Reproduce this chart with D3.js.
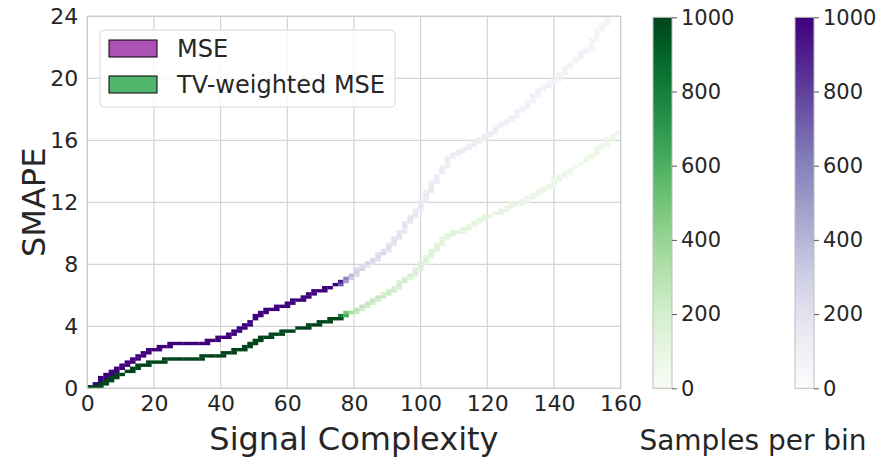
<!DOCTYPE html>
<html>
<head>
<meta charset="utf-8">
<script src="https://cdn.jsdelivr.net/npm/d3@7"></script>
<style>
  body { margin: 0; background: #fff; }
  text { font-family: "DejaVu Sans", sans-serif; fill: #262626; }
</style>
</head>
<body>
<div id="chart"></div>
<script>
var width = 880;
var height = 461;

// bins along signal complexity (column width) and SMAPE (row height)
var binWidth = 1.6;
var binHeight = 0.2;

// SMAPE value for each complexity column (column centre = 0.8 + 1.6*i)
var mseSmape = [0.05, 0.25, 0.52, 0.78, 1.0, 1.2, 1.48, 1.65, 1.85, 2.02,
    2.25, 2.45, 2.56, 2.62, 2.72, 2.84, 2.84, 2.84, 2.84, 2.85,
    2.86, 2.9, 3.05, 3.06, 3.12, 3.33, 3.4, 3.6, 3.8, 4.06,
    4.3, 4.5, 4.78, 4.98, 5.1, 5.25, 5.33, 5.36, 5.59, 5.65,
    5.88, 6.05, 6.2, 6.28, 6.32, 6.5, 6.7, 6.85, 7.05, 7.25,
    7.5, 7.75, 8.0, 8.28, 8.5, 8.72, 9.05, 9.45, 9.95, 10.4,
    10.85, 11.28, 11.78, 12.42, 12.98, 13.45, 14.15, 14.62, 15.05, 15.25,
    15.37, 15.58, 15.78, 15.98, 16.2, 16.45, 16.72, 16.98, 17.18, 17.4,
    17.68, 17.98, 18.3, 18.85, 19.1, 19.35, 19.58, 19.82, 20.15, 20.5,
    20.85, 21.15, 21.45, 21.78, 22.12, 22.8, 23.35, 23.8];

// samples in each column
var mseCount = [2000, 2000, 2000, 2000, 2000, 2000, 2000, 2000, 2000, 2000,
    2000, 2000, 2000, 2000, 2000, 2000, 2000, 2000, 2000, 2000,
    2000, 2000, 2000, 2000, 2000, 2000, 2000, 2000, 2000, 2000,
    2000, 2000, 2000, 2000, 2000, 2000, 2000, 2000, 2000, 2000,
    2000, 2000, 2000, 1800, 1700, 1500, 1300, 900, 600, 380,
    300, 280, 260, 255, 245, 240, 225, 220, 210, 200,
    190, 185, 175, 165, 160, 150, 148, 145, 140, 138,
    135, 132, 130, 128, 125, 122, 120, 118, 115, 112,
    110, 108, 106, 105, 102, 100, 98, 96, 95, 92,
    90, 88, 86, 85, 82, 80, 78, 75];

var tvSmape = [0.0, 0.1, 0.24, 0.42, 0.63, 0.82, 0.95, 1.05, 1.18, 1.35,
    1.5, 1.6, 1.65, 1.68, 1.75, 1.87, 1.87, 1.87, 1.87, 1.88,
    1.9, 2.08, 2.08, 2.1, 2.19, 2.2, 2.3, 2.4, 2.45, 2.7,
    2.88, 3.0, 3.15, 3.3, 3.4, 3.5, 3.56, 3.65, 3.75, 3.85,
    3.9, 4.0, 4.08, 4.2, 4.3, 4.4, 4.48, 4.55, 4.72, 4.9,
    5.08, 5.28, 5.5, 5.65, 5.8, 5.98, 6.18, 6.38, 6.7, 6.94,
    7.22, 7.55, 7.85, 8.25, 8.7, 9.03, 9.45, 9.8, 10.0, 10.12,
    10.25, 10.38, 10.6, 10.82, 11.0, 11.12, 11.28, 11.42, 11.58, 11.75,
    11.9, 12.05, 12.22, 12.42, 12.62, 12.82, 13.02, 13.28, 13.55, 13.8,
    14.1, 14.3, 14.5, 14.7, 14.98, 15.3, 15.6, 15.9, 16.2, 16.5];

var tvCount = [2000, 2000, 2000, 2000, 2000, 2000, 2000, 2000, 2000, 2000,
    2000, 2000, 2000, 2000, 2000, 2000, 2000, 2000, 2000, 2000,
    2000, 2000, 2000, 2000, 2000, 2000, 2000, 2000, 2000, 2000,
    2000, 2000, 2000, 2000, 2000, 2000, 2000, 2000, 2000, 2000,
    2000, 2000, 2000, 1800, 1700, 1500, 1300, 1000, 620, 360,
    290, 270, 260, 250, 245, 235, 230, 220, 210, 205,
    195, 185, 175, 165, 160, 150, 145, 140, 138, 135,
    130, 128, 125, 122, 120, 118, 115, 112, 110, 108,
    105, 102, 100, 98, 96, 95, 92, 90, 88, 86,
    85, 82, 80, 78, 76, 75, 72, 70, 68, 66];

var xTicks = [0, 20, 40, 60, 80, 100, 120, 140, 160];
var yTicks = [0, 4, 8, 12, 16, 20, 24];
var countTicks = [0, 200, 400, 600, 800, 1000];
var seriesNames = ["MSE", "TV-weighted MSE"];
var seriesPatch = ["#ab52b3", "#52b56c"];

var plotLeft = 87.3, plotRight = 620.6, plotTop = 16.3, plotBottom = 388.3;

var xScale = d3.scaleLinear().domain([0, 160]).range([plotLeft, plotRight]);
var yScale = d3.scaleLinear().domain([0, 24]).range([plotBottom, plotTop]);

var purple = d3.scaleSequential(d3.interpolatePurples).domain([0, 1000]).clamp(true);
var green = d3.scaleSequential(d3.interpolateGreens).domain([0, 1000]).clamp(true);

var svg = d3.select("#chart")
    .append("svg")
    .attr("width", width)
    .attr("height", height);

// grid
svg.append("g")
    .selectAll("line")
    .data(xTicks)
    .enter()
    .append("line")
    .attr("x1", function (d) { return xScale(d); })
    .attr("x2", function (d) { return xScale(d); })
    .attr("y1", plotTop)
    .attr("y2", plotBottom)
    .attr("stroke", "#d4d4d4")
    .attr("stroke-width", 1.2);

svg.append("g")
    .selectAll("line")
    .data(yTicks)
    .enter()
    .append("line")
    .attr("x1", plotLeft)
    .attr("x2", plotRight)
    .attr("y1", function (d) { return yScale(d); })
    .attr("y2", function (d) { return yScale(d); })
    .attr("stroke", "#d4d4d4")
    .attr("stroke-width", 1.2);

// turn a column series into histogram cells
function makeCells(vals, counts) {
    var cells = [];
    for (var i = 0; i < vals.length; i++) {
        var cur = vals[i];
        var prev = i > 0 ? vals[i - 1] : cur;
        var next = i < vals.length - 1 ? vals[i + 1] : cur;
        var lo = Math.floor(((cur + prev) / 2) / binHeight + 1e-6);
        var hi = Math.floor(((cur + next) / 2) / binHeight - 1e-6);
        var main = Math.floor(cur / binHeight + 1e-6);
        lo = Math.min(lo, main);
        hi = Math.max(hi, main);
        for (var b = lo; b <= hi; b++) {
            cells.push({
                x0: i * binWidth,
                y0: b * binHeight,
                n: b === main ? counts[i] : counts[i] * 0.8
            });
        }
    }
    return cells;
}

function drawCells(cells, color) {
    svg.append("g")
        .selectAll("rect")
        .data(cells)
        .enter()
        .append("rect")
        .attr("x", function (d) { return xScale(d.x0); })
        .attr("y", function (d) { return yScale(d.y0 + binHeight); })
        .attr("width", xScale(binWidth) - xScale(0) + 0.3)
        .attr("height", yScale(0) - yScale(binHeight) + 0.3)
        .attr("fill", function (d) { return color(d.n); });
}

drawCells(makeCells(mseSmape, mseCount), purple);
drawCells(makeCells(tvSmape, tvCount), green);

// frame
svg.append("rect")
    .attr("x", plotLeft)
    .attr("y", plotTop)
    .attr("width", plotRight - plotLeft)
    .attr("height", plotBottom - plotTop)
    .attr("fill", "none")
    .attr("stroke", "#cccccc")
    .attr("stroke-width", 1.2);

// axes
var xAxis = svg.append("g")
    .attr("transform", "translate(0," + plotBottom + ")")
    .call(d3.axisBottom(xScale).tickValues(xTicks).tickSize(0).tickPadding(7));
xAxis.select(".domain").remove();
xAxis.selectAll("text").style("font-size", "22px").attr("fill", "#262626");

var yAxis = svg.append("g")
    .attr("transform", "translate(" + plotLeft + ",0)")
    .call(d3.axisLeft(yScale).tickValues(yTicks).tickSize(0).tickPadding(9));
yAxis.select(".domain").remove();
yAxis.selectAll("text").style("font-size", "22px").attr("fill", "#262626");

svg.append("text")
    .attr("x", (plotLeft + plotRight) / 2)
    .attr("y", 450)
    .attr("text-anchor", "middle")
    .style("font-size", "32px")
    .text("Signal Complexity");

svg.append("text")
    .attr("transform", "translate(45," + ((plotTop + plotBottom) / 2) + ") rotate(-90)")
    .attr("text-anchor", "middle")
    .style("font-size", "32px")
    .text("SMAPE");

// legend
var legend = svg.append("g");
legend.append("rect")
    .attr("x", 100)
    .attr("y", 30)
    .attr("width", 295)
    .attr("height", 77)
    .attr("rx", 4)
    .attr("fill", "#ffffff")
    .attr("fill-opacity", 0.85)
    .attr("stroke", "#d8d8d8");

legend.selectAll(".patch")
    .data(seriesNames)
    .enter()
    .append("rect")
    .attr("class", "patch")
    .attr("x", 109)
    .attr("y", function (d, i) { return 40 + i * 36; })
    .attr("width", 48)
    .attr("height", 17)
    .attr("fill", function (d, i) { return seriesPatch[i]; })
    .attr("stroke", "#000")
    .attr("stroke-width", 1);

legend.selectAll(".lab")
    .data(seriesNames)
    .enter()
    .append("text")
    .attr("class", "lab")
    .attr("x", 177)
    .attr("y", function (d, i) { return 57 + i * 36; })
    .style("font-size", "24px")
    .text(function (d) { return d; });

// colorbars
function colorbar(x0, interp, id) {
    var cbW = 19;
    var cScale = d3.scaleLinear().domain([0, 1000]).range([plotBottom, plotTop + 1]);
    var grad = svg.append("defs")
        .append("linearGradient")
        .attr("id", id)
        .attr("x1", "0").attr("y1", "1").attr("x2", "0").attr("y2", "0");
    d3.range(0, 1.0001, 0.05).forEach(function (t) {
        grad.append("stop")
            .attr("offset", t)
            .attr("stop-color", interp(t));
    });
    svg.append("rect")
        .attr("x", x0)
        .attr("y", cScale(1000))
        .attr("width", cbW)
        .attr("height", cScale(0) - cScale(1000))
        .attr("fill", "url(#" + id + ")")
        .attr("stroke", "#bdbdbd")
        .attr("stroke-width", 1);
    var ax = svg.append("g")
        .attr("transform", "translate(" + (x0 + cbW) + ",0)")
        .call(d3.axisRight(cScale).tickValues(countTicks).tickFormat(d3.format("d"))
            .tickSize(5).tickPadding(4));
    ax.select(".domain").remove();
    ax.selectAll("line").attr("stroke", "#555");
    ax.selectAll("text").style("font-size", "21px").attr("fill", "#262626");
}

colorbar(653, d3.interpolateGreens, "gGreen");
colorbar(795, d3.interpolatePurples, "gPurple");

svg.append("text")
    .attr("x", 753)
    .attr("y", 450)
    .attr("text-anchor", "middle")
    .style("font-size", "28px")
    .text("Samples per bin");
</script>
</body>
</html>
